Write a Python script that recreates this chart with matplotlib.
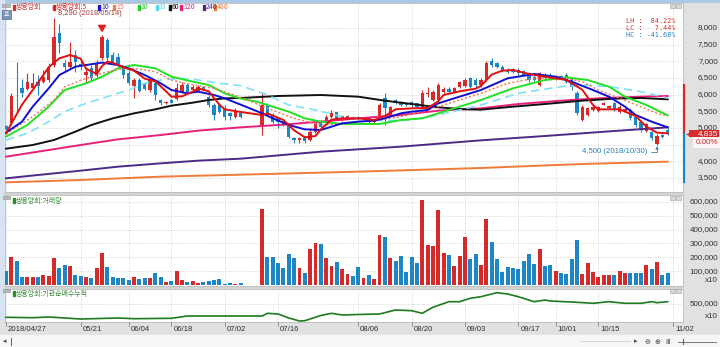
import matplotlib
matplotlib.use("Agg")
import matplotlib.pyplot as plt
import matplotlib.transforms as mtransforms
from matplotlib.patches import Rectangle
import numpy as np

plt.rcParams['font.family'] = ['Noto Sans CJK KR', 'DejaVu Sans']

W, H = 720, 347
NUM = ['Liberation Sans', 'DejaVu Sans']
nan = np.nan

# ---- daily candles (2018/04/27 .. 11/01), no trading on 45-47 ----
open_px = [5060, 5160, 6330, 6210, 6160, 6210, 6370, 6390, 6440, 6890,
           7840, 6940, 6840, 7190, 6920, 6590, 6790, 6590, 7090, 7640,
           7190, 7120, 6790, 6640, 6270, 6440, 6340, 6140, 6340, 5840,
           5760, 5840, 5860, 6090, 6290, 6140, 6120, 6240, 5940, 5690,
           5690, 5590, 5440, 5340, 5460, nan, nan, nan, 5090, 5690,
           5390, 5290, 5200, 5090, 4690, 4640, 4690, 4640, 4890, 5190,
           5190, 5340, 5470, 5240, 5290, 5340, 5320, 5240, 5290, 5190,
           5360, 5890, 5390, 5840, 5790, 5740, 5780, 5740, 5640, 6010,
           5840, 5840, 6090, 6160, 6090, 6240, 6260, 6490, 6440, 6290,
           6440, 7000, 6940, 6840, 6740, 6760, 6740, 6700, 6640, 6540,
           6300, 6590, 6540, 6480, 6560, 6580, 6440, 6050, 5250, 5390,
           5540, 5520, 5700, 5600, 5740, 5490, 5520, 5540, 5340, 5190,
           4900, 4880, 4520, 4800, 4950]
high_px = [5090, 6060, 6990, 6460, 6640, 6640, 6590, 6740, 6940, 8290,
           8120, 7040, 7590, 7340, 7040, 6790, 6890, 7040, 7790, 7700,
           7290, 7240, 6840, 6740, 6490, 6490, 6390, 6490, 6390, 5860,
           5820, 5860, 6340, 6390, 6340, 6290, 6280, 6260, 5990, 5740,
           5740, 5690, 5490, 5590, 5520, nan, nan, nan, 6090, 5740,
           5440, 5340, 5240, 5140, 4740, 4740, 4760, 4990, 5220, 5240,
           5390, 5540, 5490, 5390, 5390, 5370, 5350, 5320, 5320, 5270,
           5740, 6040, 5660, 5860, 5820, 5760, 5800, 5760, 6140, 6220,
           6140, 6340, 6220, 6220, 6240, 6420, 6490, 6520, 6490, 6490,
           7000, 7090, 6990, 6890, 6790, 6810, 6790, 6750, 6690, 6580,
           6690, 6640, 6640, 6600, 6600, 6640, 6490, 6100, 5690, 5620,
           5650, 5660, 5790, 5700, 5790, 5680, 5600, 5590, 5390, 5240,
           5150, 4920, 4810, 4830, 5000]
low_px = [4940, 5090, 5440, 5940, 6140, 6160, 5990, 6340, 6390, 6840,
          7240, 6690, 6790, 6690, 6740, 6340, 6440, 6540, 7040, 7000,
          6890, 6840, 6490, 6290, 5890, 6090, 6140, 6090, 5840, 5690,
          5720, 5740, 5840, 6060, 6040, 6100, 6100, 6140, 5640, 5240,
          5440, 5240, 5240, 5290, 5290, nan, nan, nan, 4790, 5360,
          5160, 4990, 5060, 4690, 4540, 4560, 4540, 4620, 4840, 4990,
          5140, 5290, 5240, 5210, 5260, 5260, 5230, 5210, 5160, 5160,
          5340, 5090, 5340, 5720, 5660, 5660, 5640, 5600, 5590, 5940,
          5800, 5790, 6040, 6060, 6060, 6200, 6240, 6200, 6240, 6240,
          6400, 6840, 6790, 6690, 6640, 6650, 6590, 6550, 6390, 6400,
          6260, 6450, 6440, 6440, 6460, 6340, 6140, 5400, 5200, 5350,
          5500, 5490, 5680, 5560, 5500, 5460, 5480, 5240, 5040, 4890,
          4880, 4640, 4500, 4700, 4790]
close_px = [4980, 5960, 6310, 6040, 6390, 6340, 6260, 6540, 6840, 7720,
            7540, 6820, 6970, 6990, 6880, 6690, 6490, 6940, 7720, 7090,
            6940, 6920, 6590, 6340, 6440, 6120, 6160, 6440, 5990, 5760,
            5780, 5760, 6190, 6290, 6090, 6240, 6240, 6180, 5690, 5390,
            5490, 5340, 5360, 5510, 5340, nan, nan, nan, 5690, 5390,
            5190, 5190, 5100, 4720, 4640, 4690, 4620, 4890, 5190, 5040,
            5340, 5440, 5270, 5360, 5360, 5290, 5260, 5290, 5190, 5240,
            5690, 5590, 5620, 5740, 5690, 5690, 5680, 5620, 6040, 6060,
            6090, 6290, 6160, 6090, 6190, 6390, 6440, 6240, 6290, 6440,
            6940, 6900, 6840, 6740, 6690, 6690, 6640, 6600, 6440, 6440,
            6640, 6490, 6480, 6560, 6500, 6390, 6240, 5450, 5640, 5590,
            5620, 5620, 5740, 5650, 5540, 5640, 5560, 5290, 5090, 4940,
            5120, 4690, 4760, 4730, 4835]

# volume (x10 shares)
volume = [103e3, 204e3, 175e3, 60e3, 60e3, 55e3, 60e3, 72e3, 65e3, 195e3,
          125e3, 147e3, 135e3, 75e3, 65e3, 60e3, 48e3, 123e3, 228e3, 130e3,
          55e3, 48e3, 48e3, 38e3, 55e3, 43e3, 48e3, 50e3, 84e3, 55e3,
          19e3, 26e3, 101e3, 38e3, 22e3, 29e3, 14e3, 25e3, 29e3, 34e3,
          41e3, 10e3, 12e3, 7e3, 12e3, nan, nan, nan, 548e3, 204e3,
          200e3, 156e3, 120e3, 224e3, 195e3, 120e3, 89e3, 260e3, 305e3, 296e3,
          192e3, 137e3, 168e3, 113e3, 79e3, 65e3, 127e3, 48e3, 72e3, 46e3,
          360e3, 344e3, 197e3, 173e3, 209e3, 96e3, 202e3, 156e3, 613e3, 286e3,
          281e3, 541e3, 231e3, 216e3, 135e3, 211e3, 344e3, 190e3, 224e3, 144e3,
          474e3, 312e3, 185e3, 94e3, 130e3, 120e3, 118e3, 173e3, 226e3, 149e3,
          257e3, 139e3, 147e3, 103e3, 89e3, 79e3, 185e3, 322e3, 77e3, 156e3,
          94e3, 60e3, 70e3, 72e3, 72e3, 101e3, 89e3, 89e3, 89e3, 84e3,
          146e3, 113e3, 166e3, 72e3, 89e3]

# institutional net-buy cumulative (x10), read at sample days
cum_day = [0, 5, 8, 14, 21, 24, 31, 34, 43, 48, 49, 51, 53, 55, 56, 59, 61, 63,
           66, 70, 73, 76, 78, 80, 83, 85, 87, 89, 92, 94, 96, 99, 101, 102,
           107, 110, 113, 116, 119, 121, 122, 124]
cum_val = [167500, 157500, 175000, 125000, 150000, 132500, 142500, 200000,
           200000, 200000, 267500, 250000, 150000, 75000, 82500, 212500,
           267500, 225000, 237500, 250000, 350000, 332500, 267500, 417500,
           557500, 557500, 642500, 682500, 782500, 750000, 682500, 557500,
           600000, 575000, 542500, 517500, 557500, 517500, 517500, 557500,
           532500, 557500]

# moving averages (day, value)
ma5 = ([0, 3, 6, 8, 10, 12, 14, 15, 17, 18, 19, 20, 22, 24, 26, 28, 30, 31, 33,
        35, 36, 38, 40, 41, 44, 48, 49, 52, 54, 56, 58, 59, 61, 63, 66, 69, 71,
        73, 76, 79, 81, 82, 85, 88, 89, 91, 93, 95, 98, 101, 105, 108, 110,
        111, 115, 118, 120, 122, 124],
       [4840, 5700, 6360, 6820, 7090, 7190, 7080, 6780, 6620, 6860, 6990, 6960,
        6820, 6720, 6480, 6400, 6100, 5940, 5950, 6090, 6190, 6100, 5700, 5560,
        5480, 5390, 5440, 5240, 4930, 4720, 4760, 4960, 5250, 5290, 5290, 5240,
        5360, 5560, 5590, 5600, 5800, 5990, 6100, 6180, 6260, 6600, 6720, 6740,
        6620, 6540, 6440, 6150, 5690, 5560, 5560, 5360, 5040, 4860, 4840])
ma10 = ([0, 3, 5, 8, 10, 13, 15, 18, 21, 23, 26, 29, 31, 34, 36, 39, 41, 44, 48,
         50, 53, 56, 59, 61, 63, 66, 69, 71, 74, 76, 79, 81, 85, 88, 89, 94, 99,
         103, 106, 110, 113, 116, 118, 121, 124],
        [4860, 5190, 5640, 6190, 6590, 6840, 6890, 6960, 6890, 6790, 6590, 6340,
         6140, 6040, 6090, 5990, 5890, 5700, 5440, 5290, 5090, 4960, 4940, 5040,
         5140, 5190, 5220, 5290, 5440, 5490, 5540, 5740, 5940, 6090, 6140, 6490,
         6620, 6540, 6390, 6140, 5940, 5640, 5390, 5190, 5020])
ma15 = ([0, 5, 9, 11, 15, 18, 21, 24, 28, 31, 35, 39, 44, 49, 54, 59, 63, 66, 70,
         74, 78, 81, 85, 89, 94, 99, 104, 108, 111, 115, 119, 122, 124],
        [4820, 5340, 5840, 6240, 6490, 6640, 6760, 6790, 6690, 6440, 6290, 6190,
         5920, 5590, 5290, 5090, 5120, 5190, 5240, 5340, 5490, 5640, 5840, 6040,
         6340, 6490, 6520, 6390, 6140, 5890, 5640, 5440, 5360])
ma20 = ([0, 4, 8, 11, 15, 18, 21, 24, 28, 31, 35, 38, 41, 44, 47, 50, 53, 56, 59,
         63, 66, 70, 74, 78, 81, 85, 89, 95, 101, 105, 109, 113, 116, 120, 124],
        [4740, 5090, 5640, 6140, 6340, 6540, 6790, 6890, 6790, 6540, 6390, 6290,
         6040, 5880, 5790, 5640, 5490, 5290, 5190, 5120, 5120, 5120, 5240, 5290,
         5440, 5640, 5840, 6190, 6440, 6520, 6440, 6240, 5940, 5690, 5380])
ma33 = ([0, 4, 8, 11, 15, 19, 23, 26, 29, 33, 36, 40, 44, 49, 53, 58, 63, 68, 71,
         76, 81, 85, 89, 96, 104, 109, 114, 119, 124],
        [4640, 4840, 5190, 5490, 5740, 5940, 6140, 6340, 6440, 6490, 6440, 6340,
         6270, 5990, 5690, 5540, 5340, 5240, 5220, 5240, 5390, 5540, 5690, 6040,
         6240, 6290, 6220, 6090, 5900])
ma60 = ([0, 5, 9, 13, 16, 20, 24, 28, 31, 35, 38, 41, 44, 51, 59, 66, 71, 76, 81,
         86, 89, 95, 101, 108, 114, 119, 124],
        [4380, 4490, 4640, 4890, 5090, 5290, 5440, 5560, 5670, 5760, 5840, 5890,
         5900, 5960, 5990, 5940, 5820, 5720, 5620, 5560, 5550, 5640, 5720, 5820,
         5880, 5900, 5860])
ma120 = ([0, 6, 14, 21, 29, 36, 44, 51, 59, 66, 74, 81, 89, 96, 104, 111, 119, 124],
         [4140, 4290, 4490, 4660, 4790, 4920, 5020, 5090, 5190, 5290, 5390, 5520,
          5590, 5720, 5820, 5890, 5940, 5960])
ma240 = ([0, 6, 14, 21, 29, 36, 44, 59, 74, 89, 101, 114, 124],
         [3490, 3590, 3720, 3840, 3940, 4020, 4080, 4290, 4440, 4630, 4760, 4910,
          5020])
ma480 = ([0, 14, 29, 44, 66, 89, 108, 124],
         [3370, 3440, 3540, 3600, 3690, 3800, 3920, 3990])

tick_pos = [0, 14, 23, 31, 41, 51, 66, 76, 86, 96, 103, 111, 125]
tick_lbl = ['2018/04/27', '05/21', '06/04', '06/18', '07/02', '07/16', '08/06',
            '08/20', '09/03', '09/17', '10/01', '10/15', '11/02']

price_ticks = [3500, 4000, 4500, 5000, 5500, 6000, 6500, 7000, 7500, 8000]
vol_ticks = [100000, 200000, 300000, 400000, 500000, 600000]

last_price = 4835
limit_up, limit_dn = 6285, 3385
hi_day, lo_day = 9, 122

RED = '#d42a2a'
BLUE = '#1f86c6'
GRID = '#c4c4c4'
STRIP = '#e1e1e1'


def rect(x0, y0, x1, y1):
    return [x0 / W, 1 - y1 / H, (x1 - x0) / W, (y1 - y0) / H]


fig = plt.figure(figsize=(W / 100, H / 100), dpi=100)
fig.patch.set_facecolor('#f3f3f3')

# pixel-space background layer
bg = fig.add_axes([0, 0, 1, 1], zorder=0)
bg.set_xlim(0, W)
bg.set_ylim(H, 0)
bg.axis('off')
bg.add_patch(Rectangle((0, 0), W, 3, color='#a9c8e6'))
bg.add_patch(Rectangle((0, 0), 4, 335, color='#d6e4f2'))
bg.add_patch(Rectangle((683, 3), 37, 319, color=STRIP))
bg.add_patch(Rectangle((0, 322), W, 13, color=STRIP))
bg.add_patch(Rectangle((0, 335), W, 12, color='#f6f6f6'))
bg.add_patch(Rectangle((4, 192), 679, 3, color='#d4d4d4'))
bg.add_patch(Rectangle((4, 286), 679, 3, color='#d4d4d4'))

xmin, xmax = -1 / 5.336, 677 / 5.336

axp = fig.add_axes(rect(5, 3, 683, 192), zorder=2)
axv = fig.add_axes(rect(5, 195, 683, 286), zorder=2)
axc = fig.add_axes(rect(5, 289, 683, 322), zorder=2)

for ax in (axp, axv, axc):
    ax.set_xlim(xmin, xmax)
    ax.set_facecolor('white')
    ax.set_xticks([])
    ax.set_yticks([])
    for s in ax.spines.values():
        s.set_color('#bdbdbd')
        s.set_linewidth(0.6)
    for t in tick_pos:
        ax.axvline(t, color=GRID, lw=0.6, ls=(0, (1, 2)), zorder=1)

axp.set_ylim(3080, 8750)
axv.set_ylim(-7210, 648900)
axc.set_ylim(50000, 875000)

for v in price_ticks:
    axp.axhline(v, color=GRID, lw=0.6, ls=(0, (1, 2)), zorder=1)
for v in vol_ticks:
    axv.axhline(v, color=GRID, lw=0.6, ls=(0, (1, 2)), zorder=1)
axc.axhline(500000, color=GRID, lw=0.6, ls=(0, (1, 2)), zorder=1)

# candles
o = np.array(open_px, float)
hh = np.array(high_px, float)
ll = np.array(low_px, float)
c = np.array(close_px, float)
idx = np.arange(len(c))
ok = ~np.isnan(c)
col = np.where(c >= o, RED, BLUE)

axp.vlines(idx[ok], ll[ok], hh[ok], colors=col[ok], lw=0.8, zorder=4)
axp.bar(idx[ok], np.maximum(np.abs(c - o), 25)[ok], bottom=np.minimum(o, c)[ok],
        width=0.62, color=col[ok], zorder=4)

# moving averages
ma_style = [
    (ma480, '#f07a3a', '-', 1.4),
    (ma240, '#4b2a86', '-', 1.4),
    (ma120, '#e8207a', '-', 1.4),
    (ma60, '#111111', '-', 1.4),
    (ma33, '#7fe0f8', (0, (5, 3)), 1.2),
    (ma20, '#22e022', '-', 1.4),
    (ma15, '#f07858', (0, (1.5, 1.5)), 1.0),
    (ma10, '#1010d0', '-', 1.4),
    (ma5, '#e01010', '-', 1.4),
]
for (xs, ys), color, ls, lw in ma_style:
    axp.plot(xs, ys, color=color, ls=ls, lw=lw, zorder=5)

# volume
vol = np.array(volume, float)
axv.bar(idx[ok], vol[ok], width=0.74, color=col[ok], zorder=3)

# cumulative net buy
axc.plot(cum_day, cum_val, color='#1e7a1e', lw=1.2, zorder=3)

# high / low annotations
axp.annotate('8,290 (2018/05/14)', xy=(hi_day, high_px[hi_day]),
             xytext=(4, 5), textcoords='offset pixels', fontsize=5.4,
             family=NUM, color='#a03a3a', va='center', zorder=6)
axp.annotate('4,500 (2018/10/30)', xy=(lo_day, low_px[lo_day]),
             xytext=(-10, -7), textcoords='offset pixels', fontsize=5.6,
             family=NUM, color='#2a84c0', ha='right', va='center', zorder=6,
             arrowprops=dict(arrowstyle='-|>', color='#2a84c0', lw=0.6,
                             mutation_scale=4, shrinkA=1, shrinkB=1,
                             connectionstyle='angle,angleA=0,angleB=90,rad=0'))
axp.annotate('', xy=(18, high_px[18] + 30), xytext=(0, 8), textcoords='offset pixels',
             arrowprops=dict(arrowstyle='simple,head_width=0.7,head_length=0.6,tail_width=0.3',
                             color='#e02020', mutation_scale=7), zorder=6)

# overlay in pixel space
ov = fig.add_axes([0, 0, 1, 1], zorder=10)
ov.set_xlim(0, W)
ov.set_ylim(H, 0)
ov.axis('off')
ov.patch.set_visible(False)

tp = mtransforms.blended_transform_factory(ov.transData, axp.transData)
tv = mtransforms.blended_transform_factory(ov.transData, axv.transData)
tc = mtransforms.blended_transform_factory(ov.transData, axc.transData)
td = mtransforms.blended_transform_factory(axp.transData, ov.transData)

# the 4,500 level label sits under the change-rate tag, so it is skipped
for v in price_ticks:
    if v == 4500:
        continue
    ov.text(718, v, f'{v:,}', transform=tp, ha='right', va='center',
            fontsize=5.8, family=NUM, color='#333333')
for v in vol_ticks:
    ov.text(718, v, f'{v:,}', transform=tv, ha='right', va='center',
            fontsize=5.8, family=NUM, color='#333333')
ov.text(718, 280, 'x10', ha='right', va='center', fontsize=5.8, family=NUM, color='#333333')
ov.text(718, 500000, '500,000', transform=tc, ha='right', va='center',
        fontsize=5.8, family=NUM, color='#333333')
ov.text(718, 316.5, 'x10', ha='right', va='center', fontsize=5.8, family=NUM, color='#333333')

# upper / lower price limit bar and current price tag
ov.plot([683.5, 683.5], [last_price, limit_up], transform=tp, color='#d42a2a', lw=1.6)
ov.plot([683.5, 683.5], [limit_dn, last_price], transform=tp, color='#1f86c6', lw=1.6)
ov.plot([688], [last_price], transform=tp, marker='<', ms=3.5, color='#d42a2a', mec='none')
ov.add_patch(Rectangle((689, last_price - 110), 30, 220, transform=tp,
                       fc='#d42a2a', ec='none', zorder=3))
ov.text(718, last_price, f'{last_price:,}', transform=tp, ha='right', va='center',
        fontsize=5.8, family=NUM, color='white', zorder=4)
ov.annotate('0.00%', xy=(718, last_price), xycoords=tp, xytext=(0, -9),
            textcoords='offset pixels', ha='right', va='center', fontsize=5.8,
            family=NUM, color='#d42a2a', zorder=4,
            bbox=dict(boxstyle='square,pad=0.25', fc='#fbf4f4', ec='none'))

# date axis
for t, lbl in zip(tick_pos, tick_lbl):
    ov.plot([t, t], [322, 326], transform=td, color='#888888', lw=0.6)
    ov.annotate(lbl, xy=(t, 329.5), xycoords=td, xytext=(2, 0),
                textcoords='offset pixels', ha='left', va='center',
                fontsize=5.6, family=NUM, color='#333333')

# legend row of the price panel
legend = [('쌍용양회', 13, '#cc3333'), ('쌍용양회:5', 53, '#dd2222'),
          ('10', 98, '#1a1acc'), ('15', 113, '#f07858'), ('20', 138, '#22cc22'),
          ('33', 156, '#55d8f5'), ('60', 169, '#111111'), ('120', 180, '#e8207a'),
          ('240', 203, '#4b2a86'), ('480', 214, '#f07a3a')]
for txt, x, color in legend:
    ov.add_patch(Rectangle((x, 5), 1.8, 4.5, color=color))
    ov.text(x + 3, 7.2, txt, fontsize=5, color=color, va='center', ha='left')

ov.add_patch(Rectangle((2, 3.8), 8, 3.4, fc='#b8b8b8', ec='#909090', lw=0.4))
ov.add_patch(Rectangle((2, 10), 9, 9, fc='#7d96b6', ec='#4f6d92', lw=0.5))
ov.text(6.5, 14.6, '호', fontsize=4.3, color='white', ha='center', va='center')

for y0, txt in ((196, '쌍용양회:거래량'), (289, '쌍용양회:기관순매수누적')):
    ov.add_patch(Rectangle((3, y0), 7, 2.6, fc='#b8b8b8', ec='#909090', lw=0.4))
    ov.add_patch(Rectangle((13, y0 + 2), 1.6, 5, color='#2e8b2e'))
    ov.text(16, y0 + 4.6, txt, fontsize=5, color='#3b8b3b', va='center', ha='left')

for y0 in (4, 196, 289):
    ov.add_patch(Rectangle((670, y0), 4.5, 3.6, fc='#d8d8d8', ec='#a0a0a0', lw=0.4))
    ov.add_patch(Rectangle((676, y0), 4.5, 3.6, fc='#d8d8d8', ec='#a0a0a0', lw=0.4))

# LH / LC / HC summary
for y, txt, color in ((20.7, 'LH :  84.22%', '#d03030'), (28, 'LC :   7.44%', '#d03030'),
                      (35.2, 'HC : -41.68%', '#2080c0')):
    ov.text(676, y, txt, ha='right', va='center', fontsize=4.9,
            family=['DejaVu Sans Mono'], color=color)

# bottom scroll strip
ov.text(3, 341.5, '◂', fontsize=5, color='#444444', va='center', family=['DejaVu Sans'])
ov.plot([11, 11], [338, 345], color='#444444', lw=0.6)
ov.plot([580, 630], [341, 341], color='#d0d0d0', lw=0.6)
for x, g in ((636, '▸'), (647, '⊖'), (657, '⊕'), (668, 'Ⅲ')):
    ov.text(x, 341.5, g, fontsize=5, color='#444444', va='center', ha='center',
            family=['DejaVu Sans'])
ov.plot([678, 716], [341.5, 341.5], color='#666666', lw=0.6)
ov.plot([683, 683], [339, 344], color='#666666', lw=0.8)

fig.savefig('out.png', dpi=100, facecolor=fig.get_facecolor())
